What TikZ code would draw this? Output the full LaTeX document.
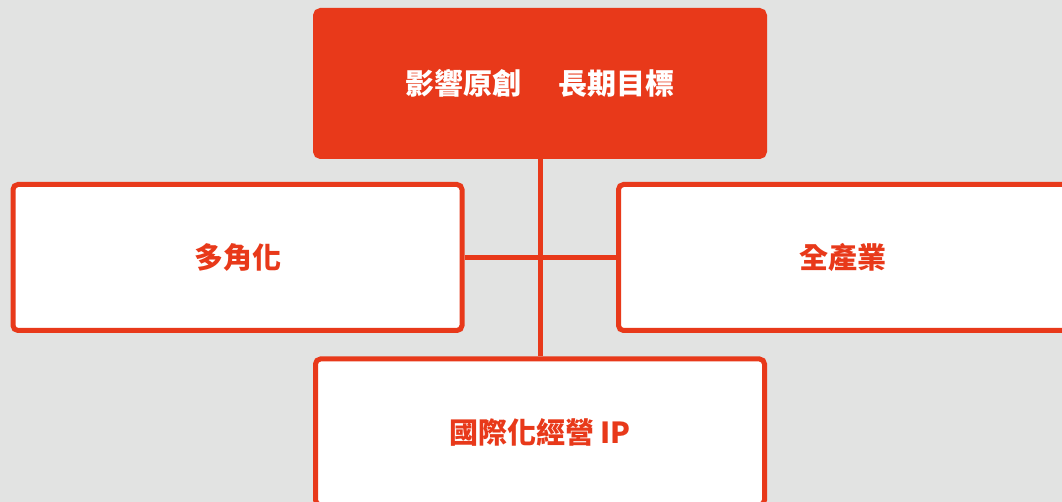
\documentclass[tikz,border=0pt]{standalone}
\usepackage{fontspec}
\newfontfamily\cjk{Noto Sans CJK TC}
\definecolor{bg}{HTML}{E2E3E2}
\definecolor{accent}{HTML}{E8391A}
\tikzset{
  box/.style={draw=accent, line width=5pt, rounded corners=5pt, minimum width=449pt, minimum height=146pt, inner sep=0pt, font=\cjk\bfseries\fontsize{29}{29}\selectfont},
  whitebox/.style={box, fill=white, text=accent},
  redbox/.style={box, fill=accent, text=white},
  link/.style={draw=accent, line width=5pt}
}
\begin{document}
\begin{tikzpicture}[x=1pt,y=1pt]
\fill[bg] (0,0) rectangle (1062,502);
\useasboundingbox (0,0) rectangle (1062,502);
\node[redbox] (top) at (540,418.5) {影響原創\hspace{0.28em}　長期目標};
\node[whitebox] (left) at (237.5,244.5) {多角化};
\node[whitebox] (right) at (843,244.5) {全產業};
\node[whitebox] (bottom) at (540,70) {國際化經營 IP};
\draw[link] (top.south) -- (bottom.north);
\draw[link] (left.east) -- (right.west);
\end{tikzpicture}
\end{document}
